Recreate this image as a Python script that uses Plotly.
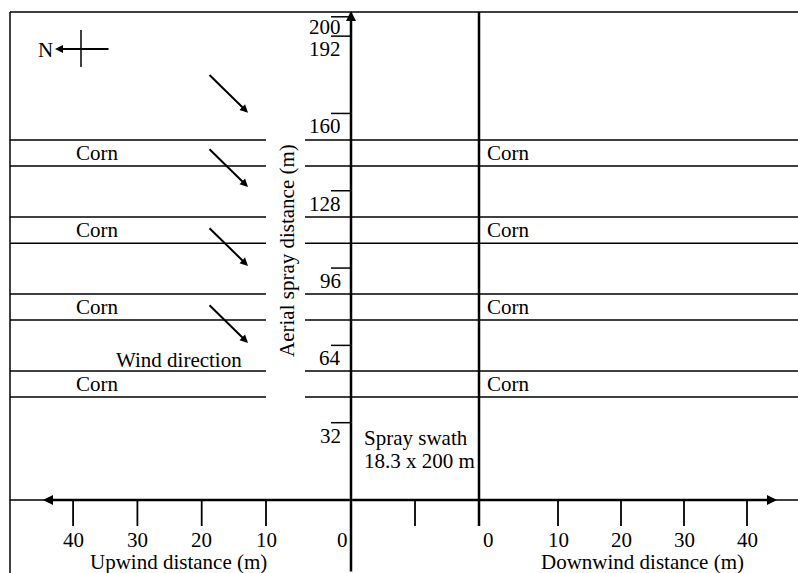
import plotly.graph_objects as go

# ---------------- data ----------------
upwind_ticks = [40, 30, 20, 10]          # m
downwind_ticks = [10, 20, 30, 40]        # m
spray_ticks = [200, 192, 160, 128, 96, 64, 32]   # aerial spray distance (m)
corn_row_lower = [42.6, 74.5, 106.3, 138.2]      # m
corn_row_upper = [53.4, 85.3, 117.1, 149.0]      # m
wind_arrow_start = [176.5, 145.8, 113.1, 81.2]   # m
wind_arrow_drop = 16.2                           # m
swath_label = ["Spray swath", "18.3 x 200 m"]

# ---------------- layout constants (diagram scale) ----------------
W, H = 798, 573
Y0_PX = 500.0          # pixel row of 0 m
PX_PER_M = 2.416       # vertical scale
AXIS_X = 351           # upwind 0 / swath left edge
SWATH_R = 479          # downwind 0 / swath right edge
UP10_X, UP_STEP = 266, 6.43
DN10_X, DN_STEP = 558, 6.3
FONT = dict(family="Liberation Serif, Times New Roman, serif", size=21, color="black")


def ypx(p):
    return (Y0_PX - p) / PX_PER_M


def up_x(m):
    return UP10_X - (m - 10) * UP_STEP


def dn_x(m):
    return DN10_X + (m - 10) * DN_STEP


shapes = []
ann = []


def line(x0, y0, x1, y1, w=1.5):
    shapes.append(dict(type="line", xref="x", yref="y", x0=x0, y0=y0, x1=x1, y1=y1,
                       line=dict(color="black", width=w)))


def arrow(x0, y0, x1, y1, w=2.0, size=1.0):
    ann.append(dict(x=x1, y=y1, ax=x0, ay=y0, xref="x", yref="y", axref="x", ayref="y",
                    showarrow=True, arrowhead=2, arrowsize=size, arrowwidth=w,
                    arrowcolor="black", text="", standoff=0, startstandoff=0))


def text(x, y, t, xanchor="center", yanchor="middle", angle=0):
    ann.append(dict(x=x, y=y, xref="x", yref="y", text=t, showarrow=False,
                    xanchor=xanchor, yanchor=yanchor, textangle=angle, font=FONT))


# border
line(10, ypx(573), 10, ypx(12), 1.5)
line(10, ypx(12), W, ypx(12), 1.5)

# corn rows
for lo, hi in zip(corn_row_lower, corn_row_upper):
    for yy in (lo, hi):
        line(10, yy, 266, yy, 1.5)
        line(305, yy, W, yy, 1.5)
    mid = (lo + hi) / 2
    text(97, mid, "Corn")
    text(485, mid, "Corn", xanchor="left")

# horizontal axis
line(10, 0, W, 0, 1.5)
arrow(AXIS_X, 0, 43, 0, 2.5, 0.8)
arrow(AXIS_X, 0, 777, 0, 2.5, 0.8)

# vertical axis and swath edge
arrow(AXIS_X, ypx(573), AXIS_X, ypx(11), 2.5, 0.8)
line(SWATH_R, ypx(526), SWATH_R, ypx(12), 2.5)

# x ticks
tick_bottom = ypx(526)
for m in upwind_ticks:
    line(up_x(m), 0, up_x(m), tick_bottom, 1.8)
    text(up_x(m), ypx(540), str(m))
for m in downwind_ticks:
    line(dn_x(m), 0, dn_x(m), tick_bottom, 1.8)
    text(dn_x(m), ypx(540), str(m))
line((AXIS_X + SWATH_R) / 2, 0, (AXIS_X + SWATH_R) / 2, tick_bottom, 1.8)
text(AXIS_X - 1, ypx(540), "0", xanchor="right")
text(SWATH_R + 2, ypx(540), "0", xanchor="left")
text(178, ypx(562), "Upwind distance (m)")
text(642, ypx(562), "Downwind distance (m)")

# y ticks
for v in spray_ticks:
    line(331, v, AXIS_X, v, 1.5)
    off = 10 if v == max(spray_ticks) else 13
    text(343, v - off / PX_PER_M, str(v), xanchor="right")
text(287, ypx(251), "Aerial spray distance (m)", angle=-90)

# wind arrows
for s in wind_arrow_start:
    arrow(208, s, 248, s - wind_arrow_drop, 2.0, 0.8)
text(179, ypx(360), "Wind direction")

# compass
arrow(110, ypx(49), 55, ypx(49), 2.0, 0.8)
line(81, ypx(30), 81, ypx(67), 1.5)
text(45, ypx(50), "N")

# swath label
text(362, ypx(438), swath_label[0], xanchor="left")
text(362, ypx(461), swath_label[1], xanchor="left")

fig = go.Figure()
fig.update_layout(
    width=W, height=H, autosize=False,
    margin=dict(l=0, r=0, t=0, b=0, pad=0),
    paper_bgcolor="white", plot_bgcolor="white",
    xaxis=dict(visible=False, range=[0, W], fixedrange=True),
    yaxis=dict(visible=False, range=[ypx(H), ypx(0)], fixedrange=True),
    showlegend=False, shapes=shapes, annotations=ann,
)

fig.write_html("out.html", config={"displayModeBar": False, "staticPlot": True},
               post_script="document.body.style.margin='0';")
